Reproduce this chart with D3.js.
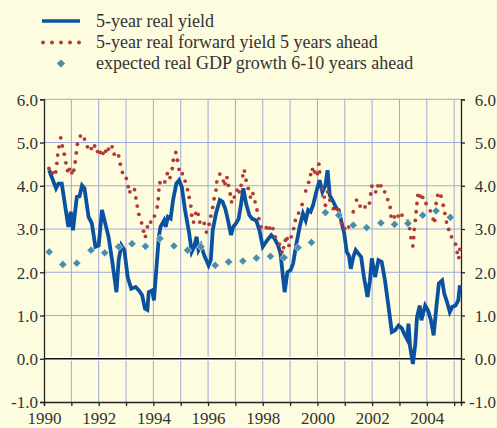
<!DOCTYPE html>
<html lang="en">
<head>
<meta charset="utf-8" />
<title>Real yields</title>
<script src="https://d3js.org/d3.v7.min.js"></script>
<style>
body { margin: 0; background: #fefcdf; }
svg { display: block; font-family: 'Liberation Serif', 'Times New Roman', serif; }
</style>
</head>
<body>
<svg id="chart" width="497" height="428"></svg>
<script>
// 5-year real yield (decimal year, percent)
var yieldYears = [1990.19,1990.44,1990.53,1990.65,1990.89,1990.98,1991.06,1991.20,1991.30,1991.39,1991.48,1991.63,1991.75,1991.88,1992.00,1992.12,1992.24,1992.36,1992.49,1992.65,1992.73,1992.83,1992.94,1993.06,1993.19,1993.35,1993.47,1993.59,1993.69,1993.78,1993.83,1993.96,1994.02,1994.20,1994.26,1994.39,1994.45,1994.53,1994.63,1994.72,1994.84,1994.94,1995.04,1995.16,1995.31,1995.40,1995.49,1995.58,1995.65,1995.74,1995.86,1996.02,1996.10,1996.17,1996.29,1996.43,1996.53,1996.63,1996.73,1996.84,1996.92,1997.02,1997.12,1997.21,1997.29,1997.39,1997.51,1997.61,1997.76,1997.88,1998.00,1998.16,1998.31,1998.43,1998.56,1998.65,1998.74,1998.80,1998.90,1999.02,1999.11,1999.23,1999.35,1999.47,1999.57,1999.66,1999.75,1999.84,1999.96,2000.08,2000.18,2000.29,2000.37,2000.45,2000.58,2000.70,2000.78,2000.88,2000.98,2001.07,2001.15,2001.22,2001.31,2001.40,2001.50,2001.60,2001.70,2001.83,2001.92,2001.99,2002.11,2002.23,2002.35,2002.47,2002.60,2002.72,2002.84,2002.97,2003.09,2003.17,2003.27,2003.33,2003.39,2003.49,2003.58,2003.64,2003.74,2003.80,2003.94,2004.04,2004.15,2004.25,2004.35,2004.44,2004.56,2004.64,2004.74,2004.84,2004.93,2005.05,2005.15,2005.21];
var yieldVals = [4.36,3.94,4.05,4.05,3.05,3.40,2.97,3.74,3.76,4.01,3.94,3.28,3.13,2.59,2.62,3.44,3.13,2.82,2.28,1.54,2.28,2.62,2.51,1.89,1.62,1.66,1.58,1.47,1.16,1.13,1.54,1.58,1.35,2.82,3.05,3.20,3.05,3.28,3.24,3.67,4.05,4.13,3.97,3.43,2.90,2.47,2.59,2.82,2.51,2.62,2.39,2.16,2.28,2.97,3.36,3.67,3.63,3.47,3.20,2.86,3.05,3.13,3.24,3.59,3.94,3.59,3.32,3.24,3.20,2.97,2.59,2.74,2.86,2.78,2.62,2.43,1.89,1.54,2.00,2.05,2.20,2.66,3.05,3.36,3.20,3.44,3.40,3.55,3.86,4.13,3.86,4.01,4.36,3.78,3.63,3.47,3.44,3.16,2.90,2.47,2.39,2.08,2.35,2.51,2.43,2.35,1.89,1.43,1.81,2.32,1.89,2.28,2.24,1.81,1.20,0.62,0.66,0.77,0.70,0.58,0.46,0.81,0.27,-0.12,0.35,0.96,1.23,0.89,1.23,1.12,0.89,0.54,1.20,1.74,1.81,1.50,1.31,1.08,1.20,1.23,1.35,1.70];

// 5-year real forward yield 5 years ahead
var fwdYears = [1990.18,1990.32,1990.43,1990.47,1990.50,1990.55,1990.61,1990.67,1990.74,1990.80,1990.86,1990.93,1991.02,1991.09,1991.14,1991.18,1991.22,1991.33,1991.48,1991.59,1991.73,1991.85,1991.96,1992.06,1992.16,1992.26,1992.36,1992.49,1992.57,1992.73,1992.79,1992.87,1993.01,1993.08,1993.14,1993.31,1993.36,1993.41,1993.47,1993.57,1993.64,1993.71,1993.78,1993.90,1994.04,1994.14,1994.18,1994.20,1994.24,1994.42,1994.51,1994.61,1994.69,1994.73,1994.82,1994.88,1994.94,1995.06,1995.16,1995.25,1995.31,1995.37,1995.40,1995.47,1995.55,1995.64,1995.70,1995.86,1995.94,1996.04,1996.10,1996.17,1996.22,1996.29,1996.32,1996.43,1996.56,1996.62,1996.69,1996.74,1996.81,1996.86,1996.96,1997.06,1997.14,1997.21,1997.27,1997.33,1997.39,1997.47,1997.55,1997.64,1997.72,1997.79,1997.86,1997.94,1998.13,1998.25,1998.37,1998.46,1998.61,1998.70,1998.76,1998.83,1998.89,1998.96,1999.04,1999.13,1999.19,1999.31,1999.44,1999.57,1999.68,1999.75,1999.82,1999.90,2000.00,2000.05,2000.08,2000.18,2000.25,2000.29,2000.37,2000.45,2000.58,2000.74,2000.88,2001.00,2001.15,2001.31,2001.43,2001.56,2001.74,2001.90,2001.95,2001.99,2002.13,2002.21,2002.32,2002.46,2002.57,2002.66,2002.69,2002.81,2002.95,2003.09,2003.30,2003.37,2003.42,2003.49,2003.52,2003.54,2003.58,2003.61,2003.64,2003.67,2003.76,2003.85,2003.97,2004.13,2004.23,2004.29,2004.34,2004.40,2004.52,2004.60,2004.66,2004.72,2004.80,2004.90,2005.05,2005.11,2005.17,2005.21];
var fwdVals = [4.40,4.30,4.32,4.52,4.71,4.90,5.11,4.92,4.73,4.53,4.35,4.38,4.30,4.36,4.55,4.76,4.96,5.15,5.08,4.90,4.86,4.92,4.79,4.77,4.75,4.80,4.85,4.90,4.73,4.69,4.50,4.31,4.17,3.98,3.86,3.91,3.72,3.53,3.34,3.14,2.95,2.83,3.05,3.16,3.30,3.51,3.70,3.90,4.07,4.09,4.28,4.19,4.40,4.59,4.77,4.59,4.38,4.28,4.11,3.91,3.73,3.53,3.32,3.16,3.36,3.34,3.16,3.13,2.93,3.11,3.30,3.50,3.70,3.90,4.09,4.27,4.11,4.05,4.19,4.01,3.81,3.63,3.74,3.90,3.86,4.01,4.23,4.34,4.13,3.94,3.74,3.82,3.63,3.44,3.24,3.05,3.03,3.02,3.01,2.82,2.65,2.47,2.57,2.74,2.78,2.62,2.82,3.01,3.20,3.37,3.57,3.88,4.08,4.26,4.38,4.32,4.28,4.50,4.32,3.94,3.74,3.55,3.86,3.67,3.47,3.45,3.13,3.01,3.05,3.40,3.67,3.53,3.51,3.60,3.81,3.99,3.86,4.00,4.00,3.86,3.68,3.50,3.30,3.28,3.30,3.32,3.19,3.01,2.80,2.61,2.80,2.99,3.20,3.40,3.59,3.78,3.76,3.73,3.59,3.42,3.23,3.20,3.59,3.78,3.76,3.55,3.36,3.16,2.99,2.82,2.65,2.46,2.34,2.53];

// expected real GDP growth 6-10 years ahead
var gdpYears = [1990.19,1990.69,1991.20,1991.72,1992.22,1992.73,1993.22,1993.71,1994.24,1994.75,1995.25,1995.74,1996.26,1996.75,1997.27,1997.77,1998.28,1998.78,1999.29,1999.78,2000.29,2000.78,2001.31,2001.80,2002.32,2002.82,2003.31,2003.85,2004.34,2004.86];
var gdpVals = [2.47,2.18,2.21,2.51,2.45,2.59,2.66,2.60,2.78,2.61,2.51,2.59,2.16,2.24,2.26,2.33,2.37,2.34,2.57,2.69,3.38,3.32,3.09,3.03,3.14,3.11,3.13,3.32,3.42,3.27];

var yTicks = [-1, 0, 1, 2, 3, 4, 5, 6];
var xLabelYears = [1990, 1992, 1994, 1996, 1998, 2000, 2002, 2004];
var gridYears = d3.range(1991, 2006);
var legendLabels = ['5-year real yield', '5-year real forward yield 5 years ahead', 'expected real GDP growth 6-10 years ahead'];

var blue = '#0a52a0', red = '#b23a34', teal = '#4a8da6', grid = '#9ea9da', ink = '#333';

var svg = d3.select('#chart');
var x = d3.scaleLinear().domain([1990, 2005.25]).range([44, 461]);
var y = d3.scaleLinear().domain([-1, 6]).range([402, 99.3]);
var fmt = d => d.toFixed(1);   // plain hyphen for the minus sign

svg.append('rect').attr('width', 497).attr('height', 428).attr('fill', '#fefcdf');

// grid
svg.append('g').selectAll('line').data(gridYears).enter().append('line')
  .attr('x1', d => x(d)).attr('x2', d => x(d))
  .attr('y1', y(6)).attr('y2', y(-1))
  .attr('stroke', grid).attr('stroke-width', 1);
svg.append('g').selectAll('line').data(yTicks.filter(d => d > 0)).enter().append('line')
  .attr('x1', x.range()[0]).attr('x2', x.range()[1])
  .attr('y1', d => y(d)).attr('y2', d => y(d))
  .attr('stroke', grid).attr('stroke-width', 1);

// zero line
svg.append('line').attr('x1', x.range()[0]).attr('x2', x.range()[1])
  .attr('y1', y(0)).attr('y2', y(0)).attr('stroke', '#fff').attr('stroke-width', 4);
svg.append('line').attr('x1', x.range()[0]).attr('x2', x.range()[1])
  .attr('y1', y(0)).attr('y2', y(0)).attr('stroke', '#111').attr('stroke-width', 1.5);

// axes
var left = svg.append('g').attr('transform', `translate(${x.range()[0]},0)`)
  .call(d3.axisLeft(y).tickValues(yTicks).tickSize(4).tickFormat(fmt));
var right = svg.append('g').attr('transform', `translate(${x.range()[1]},0)`)
  .call(d3.axisRight(y).tickValues(yTicks).tickSize(4).tickFormat(fmt));
var bottom = svg.append('g').attr('transform', `translate(0,${y(-1)})`)
  .call(d3.axisBottom(x).tickValues(d3.range(1990, 2006)).tickSize(4)
    .tickFormat(d => xLabelYears.indexOf(d) >= 0 ? d : ''));
[left, right, bottom].forEach(function (g) {
  g.selectAll('.domain').attr('stroke', '#222').attr('stroke-width', 1.3);
  g.selectAll('.tick line').attr('stroke', '#222').attr('stroke-width', 1.3);
  g.selectAll('text').attr('fill', ink).style('font-size', '17px')
    .style('font-family', "'Liberation Serif', serif");
});
left.selectAll('text').attr('x', -6).attr('dy', '0.34em');
right.selectAll('text').attr('x', 35).attr('text-anchor', 'end').attr('dy', '0.34em');
bottom.selectAll('text').attr('y', 9).attr('dy', '0.75em');

// series
var yieldData = yieldYears.map((t, i) => [t, yieldVals[i]]);
svg.append('path').datum(yieldData)
  .attr('fill', 'none').attr('stroke', blue).attr('stroke-width', 3.8)
  .attr('stroke-linejoin', 'miter')
  .attr('d', d3.line().x(d => x(d[0])).y(d => y(d[1])));

svg.append('g').selectAll('circle').data(fwdYears.map((t, i) => [t, fwdVals[i]])).enter()
  .append('circle')
  .attr('cx', d => x(d[0])).attr('cy', d => y(d[1])).attr('r', 1.9)
  .attr('fill', red);

var diamond = d3.symbol().type(d3.symbolSquare).size(34);
svg.append('g').selectAll('path').data(gdpYears.map((t, i) => [t, gdpVals[i]])).enter()
  .append('path')
  .attr('d', diamond)
  .attr('transform', d => `translate(${x(d[0])},${y(d[1])}) rotate(45)`)
  .attr('fill', teal).attr('stroke', '#fff').attr('stroke-width', 0.6);

// legend
var lg = svg.append('g');
lg.append('line').attr('x1', 42).attr('x2', 80).attr('y1', 21).attr('y2', 21)
  .attr('stroke', blue).attr('stroke-width', 3.6);
lg.selectAll('circle').data(d3.range(5)).enter().append('circle')
  .attr('cx', d => 43 + d * 9).attr('cy', 42.5).attr('r', 1.9).attr('fill', red);
lg.append('path').attr('d', diamond).attr('transform', 'translate(61,63.5) rotate(45)')
  .attr('fill', teal);
lg.selectAll('text').data(legendLabels).enter().append('text')
  .attr('x', 96).attr('y', (d, i) => 27 + i * 21)
  .attr('fill', ink).style('font-size', '18px').text(d => d);
</script>
</body>
</html>
